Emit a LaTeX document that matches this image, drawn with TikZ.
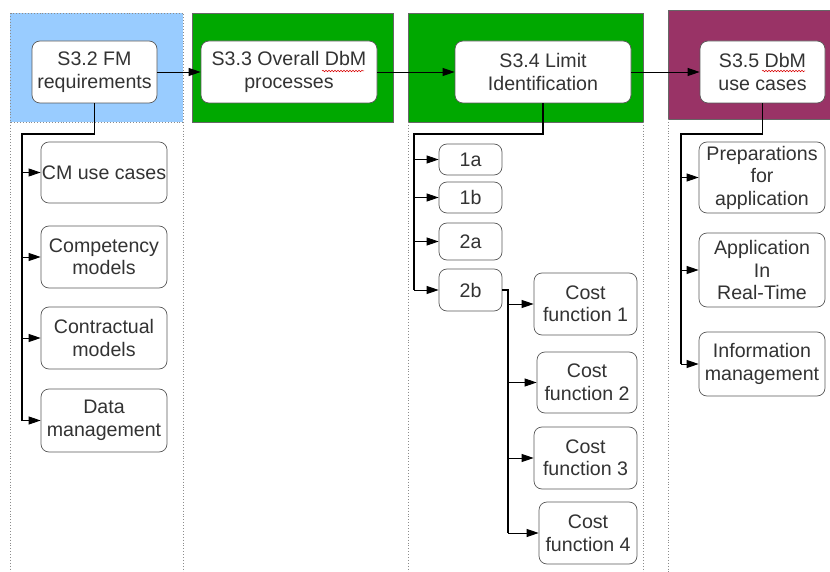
\documentclass[tikz,border=0pt]{standalone}
\usepackage{fontspec}
\setmainfont{Liberation Sans}
\usetikzlibrary{arrows.meta,decorations.pathmorphing}
\definecolor{fmblue}{HTML}{99CCFF}
\definecolor{dbmgreen}{HTML}{00A800}
\definecolor{usepurple}{HTML}{993366}
\definecolor{txtgray}{HTML}{333333}
\tikzset{
  phase/.style={draw=black!60, line width=0.5pt},
  lane/.style={draw=black!45, dotted, line width=0.9pt},
  box/.style={draw=black!65, fill=white, rounded corners=8pt, line width=0.7pt,
    align=center, text=txtgray, inner sep=1pt,
    font=\fontsize{19.6}{22.5}\selectfont},
  link/.style={draw=black, line width=0.9pt, -{Triangle[length=12pt,width=8pt]}},
  trunk/.style={draw=black, line width=1.1pt},
  spell/.style={draw=red!85!black, line width=0.5pt,
    decorate, decoration={snake, amplitude=0.8pt, segment length=3pt}}
}
\begin{document}
\begin{tikzpicture}[x=1pt,y=-1pt]
\useasboundingbox (0,0) rectangle (830,572);

% phase backgrounds
\fill[fmblue] (10,13) rectangle (183,122);
\draw[lane] (10,13) rectangle (183,122);
\filldraw[fill=dbmgreen, phase] (192,13) rectangle (393,122);
\filldraw[fill=dbmgreen, phase] (408,13) rectangle (643,122);
\filldraw[fill=usepurple, phase] (668,10) rectangle (832,119);

% swimlane separators
\draw[lane] (10,122) -- (10,572);
\draw[lane] (183,122) -- (183,572);
\draw[lane] (408,122) -- (408,572);
\draw[lane] (643,122) -- (643,572);
\draw[lane] (668,119) -- (668,572);

% phase headers
\node[box, minimum width=125pt, minimum height=62pt] (fm) at (94.5,72) {S3.2 FM\\requirements};
\node[box, minimum width=176pt, minimum height=62pt] (proc) at (289,72) {S3.3 Overall DbM\\processes};
\node[box, minimum width=176pt, minimum height=62pt] (lim) at (543,72) {S3.4 Limit\\Identification};
\node[box, minimum width=125pt, minimum height=62pt] (uc) at (762.5,72) {S3.5 DbM\\use cases};

% spell-check marks under DbM
\draw[spell] (322,71) -- (364,71);
\draw[spell] (762,71) -- (805,71);

% FM requirement items
\node[box, minimum width=126pt, minimum height=61pt] (cm) at (104,172.5) {CM use cases};
\node[box, minimum width=126pt, minimum height=62pt] (comp) at (104,257) {Competency\\models};
\node[box, minimum width=126pt, minimum height=62pt] (contr) at (104,338) {Contractual\\models};
\node[box, minimum width=126pt, minimum height=63pt] (data) at (104,420.5) {Data\\management};

% limit identification items
\node[box, minimum width=63pt, minimum height=31pt] (a1) at (470.5,159.5) {1a};
\node[box, minimum width=63pt, minimum height=31pt] (b1) at (470.5,197.5) {1b};
\node[box, minimum width=63pt, minimum height=37pt] (a2) at (470.5,241.5) {2a};
\node[box, minimum width=63pt, minimum height=42pt] (b2) at (470.5,290) {2b};

% cost functions
\node[box, minimum width=103pt, minimum height=62pt] (cf1) at (585.5,304) {Cost\\function 1};
\node[box, minimum width=100pt, minimum height=61pt] (cf2) at (587,382.5) {Cost\\function 2};
\node[box, minimum width=103pt, minimum height=62pt] (cf3) at (585.5,458) {Cost\\function 3};
\node[box, minimum width=98pt, minimum height=62pt] (cf4) at (588,533) {Cost\\function 4};

% DbM use cases
\node[box, minimum width=126pt, minimum height=71pt] (prep) at (762,177.5) {Preparations\\for\\application};
\node[box, minimum width=126pt, minimum height=74pt] (rt) at (762,270) {Application\\In\\Real-Time};
\node[box, minimum width=126pt, minimum height=64pt] (info) at (762,364) {Information\\management};

% sequence between phases
\draw[link] (fm.east) -- (proc.west);
\draw[link] (proc.east) -- (lim.west);
\draw[link] (lim.east) -- (uc.west);

% tree routing points
\coordinate (tfm) at (22,134);
\coordinate (tlim) at (414,134);
\coordinate (tcf) at (508,290);
\coordinate (tuc) at (681,134);

% FM requirement tree
\draw[trunk] (fm.south) |- (tfm) -- (tfm |- data.west);
\foreach \n in {cm,comp,contr,data}
  \draw[link] (tfm) |- (\n.west);

% limit identification tree
\draw[trunk] (lim.south) |- (tlim) -- (tlim |- b2.west);
\foreach \n in {a1,b1,a2,b2}
  \draw[link] (tlim) |- (\n.west);

% cost function tree
\draw[trunk] (b2.east) -- (tcf) -- (tcf |- cf4.west);
\foreach \n in {cf1,cf2,cf3,cf4}
  \draw[link] (tcf) |- (\n.west);

% use case tree
\draw[trunk] (uc.south) |- (tuc) -- (tuc |- info.west);
\foreach \n in {prep,rt,info}
  \draw[link] (tuc) |- (\n.west);
\end{tikzpicture}
\end{document}
